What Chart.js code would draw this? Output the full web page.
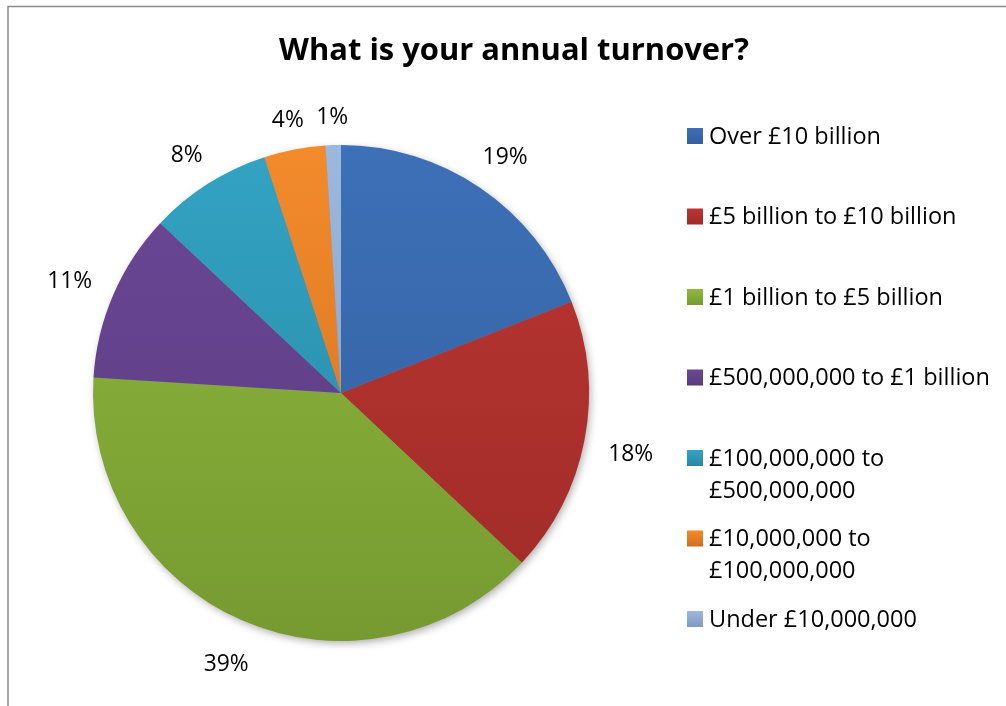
<!DOCTYPE html>
<html>
<head>
<meta charset="utf-8">
<title>Annual turnover</title>
<script src="https://cdn.jsdelivr.net/npm/chart.js@4/dist/chart.umd.min.js"></script>
<style>
    html, body { margin: 0; padding: 0; background: #fff; }
    #wrap { width: 1006px; height: 706px; position: relative; }
</style>
</head>
<body>
<div id="wrap"><canvas id="graficoFacturacion" width="1006" height="706"></canvas></div>
<script>
const titulo = 'What is your annual turnover?';
const categorias = [
    'Over £10 billion',
    '£5 billion to £10 billion',
    '£1 billion to £5 billion',
    '£500,000,000 to £1 billion',
    ['£100,000,000 to', '£500,000,000'],
    ['£10,000,000 to', '£100,000,000'],
    'Under £10,000,000'
];
const porcentajes = [19, 18, 39, 11, 8, 4, 1];
// top / bottom shade of each slice
const coloresClaros = ['#3d70b8', '#bb3631', '#8fb93f', '#6c4897', '#33a3c4', '#f38b2c', '#9db8dd'];
const coloresOscuros = ['#335f9c', '#9f2b28', '#769a30', '#59397d', '#2886a2', '#d06f1e', '#8099c2'];

const FUENTE = '"Open Sans", Lato, sans-serif';

// font size that makes a sample string a given width
function tamano(ctx, peso, muestra, ancho) {
    ctx.font = peso + ' 20px ' + FUENTE;
    return 20 * ancho / ctx.measureText(muestra).width;
}

function degradado(ctx, top, bottom, i) {
    const g = ctx.createLinearGradient(0, top, 0, bottom);
    g.addColorStop(0, coloresClaros[i]);
    g.addColorStop(1, coloresOscuros[i]);
    return g;
}

const marcoYTitulo = {
    id: 'marcoYTitulo',
    beforeDraw(chart) {
        const ctx = chart.ctx;
        ctx.save();
        ctx.strokeStyle = '#8a8a8a';
        ctx.lineWidth = 1.5;
        ctx.beginPath();
        ctx.moveTo(8, 706);
        ctx.lineTo(8, 6.5);
        ctx.lineTo(1006, 6.5);
        ctx.stroke();

        const t = tamano(ctx, 'bold', titulo, 470);
        ctx.fillStyle = '#000';
        ctx.font = 'bold ' + t + 'px ' + FUENTE;
        ctx.textAlign = 'center';
        ctx.textBaseline = 'middle';
        ctx.fillText(titulo, 514, 51);
        ctx.restore();
    }
};

// soft shadow under the whole pie
const sombra = {
    id: 'sombra',
    beforeDatasetsDraw(chart) {
        const arc = chart.getDatasetMeta(0).data[0];
        if (!arc) return;
        const ctx = chart.ctx;
        ctx.save();
        ctx.shadowColor = 'rgba(0,0,0,0.35)';
        ctx.shadowBlur = 9;
        ctx.shadowOffsetX = 2;
        ctx.shadowOffsetY = 3;
        ctx.fillStyle = '#888';
        ctx.beginPath();
        ctx.arc(arc.x, arc.y, arc.outerRadius - 1, 0, Math.PI * 2);
        ctx.fill();
        ctx.restore();
    }
};

const etiquetas = {
    id: 'etiquetas',
    afterDatasetsDraw(chart) {
        const ctx = chart.ctx;
        const meta = chart.getDatasetMeta(0);
        ctx.save();
        ctx.font = tamano(ctx, '', '39%', 45) + 'px ' + FUENTE;
        ctx.fillStyle = '#000';
        ctx.textAlign = 'center';
        ctx.textBaseline = 'middle';
        meta.data.forEach(function (arc, i) {
            const p = arc.getProps(['x', 'y', 'startAngle', 'endAngle', 'outerRadius'], true);
            const mid = (p.startAngle + p.endAngle) / 2;
            const texto = porcentajes[i] + '%';
            const w = ctx.measureText(texto).width;
            const c = Math.cos(mid), s = Math.sin(mid);
            const d = p.outerRadius + 23 + Math.abs(c) * w / 2 + Math.abs(s) * 10;
            ctx.fillText(texto, p.x + c * d, p.y + s * d + 6);
        });

        // legend
        ctx.font = tamano(ctx, '', '£500,000,000 to £1 billion', 281) + 'px ' + FUENTE;
        ctx.textAlign = 'left';
        chart.data.labels.forEach(function (lab, i) {
            const y = 136 + i * 80.5;
            ctx.fillStyle = degradado(ctx, y - 8, y + 8, i);
            ctx.fillRect(687, y - 8, 16, 16);
            ctx.fillStyle = '#000';
            const lineas = Array.isArray(lab) ? lab : [lab];
            lineas.forEach(function (l, j) {
                ctx.fillText(l, 709, y + 1 + j * 32);
            });
        });
        ctx.restore();
    }
};

document.addEventListener('DOMContentLoaded', function () {
    const ctx = document.getElementById('graficoFacturacion').getContext('2d');
    const grafico = new Chart(ctx, {
        type: 'pie',
        data: {
            labels: categorias,
            datasets: [{
                data: porcentajes,
                backgroundColor: function (context) {
                    const area = context.chart.chartArea;
                    if (!area) return coloresClaros[context.dataIndex];
                    return degradado(context.chart.ctx, area.top, area.bottom, context.dataIndex);
                },
                borderWidth: 0
            }]
        },
        options: {
            responsive: false,
            animation: false,
            layout: {
                padding: { left: 93, right: 417, top: 145, bottom: 65 }
            },
            plugins: {
                legend: { display: false },
                title: { display: false },
                tooltip: { enabled: false }
            }
        },
        plugins: [marcoYTitulo, sombra, etiquetas]
    });
});
</script>
</body>
</html>
